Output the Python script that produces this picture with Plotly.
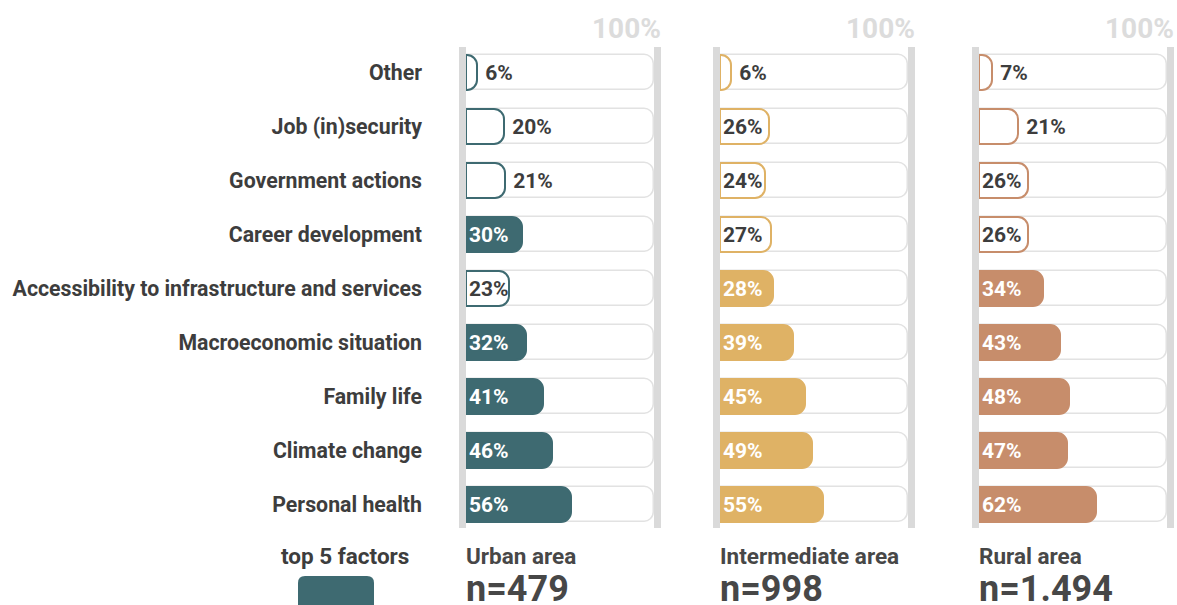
import plotly.graph_objects as go

# Survey data: share of respondents naming each factor (percent)
factors = [
    "Other",
    "Job (in)security",
    "Government actions",
    "Career development",
    "Accessibility to infrastructure and services",
    "Macroeconomic situation",
    "Family life",
    "Climate change",
    "Personal health",
]
urban = [6, 20, 21, 30, 23, 32, 41, 46, 56]
intermediate = [6, 26, 24, 27, 28, 39, 45, 49, 55]
rural = [7, 21, 26, 26, 34, 43, 48, 47, 62]

area_names = ["Urban area", "Intermediate area", "Rural area"]
sample_sizes = ["n=479", "n=998", "n=1.494"]
area_colors = ["#3e6a71", "#dfb265", "#c78d6b"]
TOP_N = 5

# Layout constants (pixels)
W, H = 1177, 605
panel_left_px = [466, 720, 979]   # pixel position of 0%
panel_width_px = 188              # pixels from 0% to 100%
RAIL_PX = 7                       # width of the grey rails
row_top_px, row_bottom_px = 46, 531
FONT = "Roboto"
DARK = "#3d3d3d"
RAIL = "#dadada"


def px_x(x):
    return x / W


def px_y(y):
    return 1 - y / H


rail_units = RAIL_PX / panel_width_px * 100
x_range = [-rail_units, 100 + rail_units]

fig = go.Figure()
series = [urban, intermediate, rural]

for i, values in enumerate(series):
    base = "" if i == 0 else str(i + 1)      # axis holding the 100% tracks
    over = str(i + 4)                         # overlaid axis holding the values
    color = area_colors[i]
    ranked = sorted(range(len(values)), key=lambda k: values[k], reverse=True)
    top = set(ranked[:TOP_N])

    # 100% track behind each bar
    fig.add_trace(go.Bar(
        x=[100] * len(factors), y=factors, orientation="h", width=0.65,
        marker=dict(color="white", line=dict(color="#e2e2e2", width=1.5),
                    cornerradius=10),
        hoverinfo="skip", showlegend=False,
        xaxis="x" + base, yaxis="y" + base,
    ))

    # top-5 factors are filled, the rest outlined
    fills = [color if k in top else "white" for k in range(len(values))]
    text_colors = ["white" if k in top else DARK for k in range(len(values))]
    positions = ["inside" if v >= 22 else "outside" for v in values]
    labels = [f"{v}%" if v >= 22 else f" {v}%" for v in values]

    fig.add_trace(go.Bar(
        x=values, y=factors, orientation="h", width=0.65,
        marker=dict(color=fills, line=dict(color=color, width=2), cornerradius=10),
        text=labels, textposition=positions,
        insidetextanchor="start", textangle=0, constraintext="none",
        textfont=dict(family=FONT, size=21, color=text_colors, weight="bold"),
        cliponaxis=False,
        hoverinfo="skip", showlegend=False,
        xaxis="x" + over, yaxis="y" + base,
    ))

y_dom = [px_y(row_bottom_px), px_y(row_top_px)]
layout = dict(
    width=W, height=H,
    margin=dict(l=0, r=0, t=0, b=0),
    paper_bgcolor="white", plot_bgcolor="rgba(0,0,0,0)",
    barmode="overlay", bargap=0,
    showlegend=False,
    uniformtext=dict(minsize=21, mode="show"),
)

for i in range(3):
    base = "" if i == 0 else str(i + 1)
    over = str(i + 4)
    x0 = panel_left_px[i]
    layout["xaxis" + base] = dict(
        domain=[px_x(x0 - RAIL_PX), px_x(x0 + panel_width_px + RAIL_PX)],
        range=x_range, visible=False, fixedrange=True, anchor="y" + base,
    )
    layout["xaxis" + over] = dict(
        overlaying="x" + base, matches="x" + base, range=x_range,
        visible=False, fixedrange=True, anchor="y" + base,
    )
    yax = dict(
        domain=y_dom, range=[len(factors) - 0.5, -0.5], type="category",
        categoryorder="array", categoryarray=factors,
        showgrid=False, zeroline=False, showline=False, ticks="",
        fixedrange=True, anchor="x" + base,
    )
    if i == 0:
        yax.update(
            tickfont=dict(family=FONT, size=21.3, color=DARK, weight="bold"),
            ticklabelstandoff=36,
        )
    else:
        yax.update(matches="y", showticklabels=False)
    layout["yaxis" + base] = yax

fig.update_layout(**layout)

shapes = []
annotations = []
rail_y0, rail_y1 = px_y(528), px_y(47)
for i in range(3):
    sfx = "" if i == 0 else str(i + 1)
    # vertical rails at 0% and 100%
    shapes.append(dict(type="rect", xref="x" + sfx, yref="paper",
                       x0=-rail_units, x1=0, y0=rail_y0, y1=rail_y1,
                       fillcolor=RAIL, line=dict(width=0), layer="above"))
    shapes.append(dict(type="rect", xref="x" + sfx, yref="paper",
                       x0=100, x1=100 + rail_units, y0=rail_y0, y1=rail_y1,
                       fillcolor=RAIL, line=dict(width=0), layer="above"))
    annotations.append(dict(
        text="100%", xref="x" + sfx, x=100, xshift=RAIL_PX + 2,
        xanchor="right", yref="paper", y=px_y(28), yanchor="middle",
        showarrow=False,
        font=dict(family=FONT, size=28, color="#dcdcdc", weight="bold"),
    ))
    annotations.append(dict(
        text=area_names[i], xref="x" + sfx, x=0, xshift=-2, xanchor="left",
        yref="paper", y=px_y(556), yanchor="middle", showarrow=False,
        font=dict(family=FONT, size=22.5, color="#474747", weight="bold"),
    ))
    annotations.append(dict(
        text=sample_sizes[i], xref="x" + sfx, x=0, xshift=-2, xanchor="left",
        yref="paper", y=px_y(589), yanchor="middle", showarrow=False,
        font=dict(family=FONT, size=36, color="#474747", weight="bold"),
    ))

# Legend: "top 5 factors" with a filled swatch
annotations.append(dict(
    text="top 5 factors", xref="paper", x=px_x(345), xanchor="center",
    yref="paper", y=px_y(556), yanchor="middle", showarrow=False,
    font=dict(family=FONT, size=22.5, color=DARK, weight="bold"),
))
sx0, sx1, sy0, sy1, r = 298, 374, 576, 620, 7
swatch = (
    f"M {px_x(sx0)},{px_y(sy1)} L {px_x(sx0)},{px_y(sy0 + r)} "
    f"Q {px_x(sx0)},{px_y(sy0)} {px_x(sx0 + r)},{px_y(sy0)} "
    f"L {px_x(sx1 - r)},{px_y(sy0)} "
    f"Q {px_x(sx1)},{px_y(sy0)} {px_x(sx1)},{px_y(sy0 + r)} "
    f"L {px_x(sx1)},{px_y(sy1)} Z"
)
shapes.append(dict(type="path", xref="paper", yref="paper", path=swatch,
                   fillcolor=area_colors[0], line=dict(width=0)))

fig.update_layout(shapes=shapes, annotations=annotations)
fig.write_html("out.html")
